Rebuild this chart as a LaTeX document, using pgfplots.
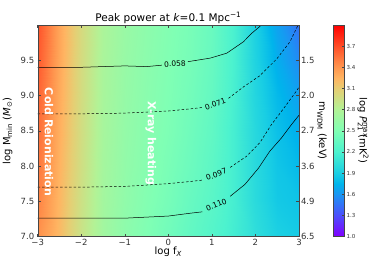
\documentclass[border=0pt]{standalone}
\usepackage{pgfplots}
\pgfplotsset{compat=1.18}
\usepackage{pgfplotstable}
\usepackage{fontspec}
\setmainfont{DejaVu Sans}

\pgfplotsset{
  colormap={mplrainbow}{
    rgb(0pt)=(0.5,0,1)
    rgb(10pt)=(0.3,0.309,0.988)
    rgb(20pt)=(0.1,0.588,0.951)
    rgb(25pt)=(0,0.707,0.924)
    rgb(30pt)=(0.1,0.809,0.891)
    rgb(40pt)=(0.3,0.951,0.809)
    rgb(50pt)=(0.5,1,0.707)
    rgb(60pt)=(0.7,0.951,0.588)
    rgb(70pt)=(0.9,0.809,0.454)
    rgb(75pt)=(1,0.707,0.383)
    rgb(80pt)=(1,0.588,0.309)
    rgb(90pt)=(1,0.309,0.156)
    rgb(100pt)=(1,0,0)
  }
}

\pgfplotstableread{
x y c
-3 7.0 3.42
-2.5 7.0 3.22
-2 7.0 2.93
-1.5 7.0 2.70
-1 7.0 2.58
-0.5 7.0 2.50
0 7.0 2.42
0.5 7.0 2.33
1 7.0 2.25
1.5 7.0 2.15
2 7.0 2.03
2.5 7.0 1.92
3 7.0 1.88
-3 7.5 3.48
-2.5 7.5 3.24
-2 7.5 2.95
-1.5 7.5 2.71
-1 7.5 2.60
-0.5 7.5 2.52
0 7.5 2.45
0.5 7.5 2.36
1 7.5 2.28
1.5 7.5 2.16
2 7.5 2.00
2.5 7.5 1.87
3 7.5 1.84
-3 8.0 3.53
-2.5 8.0 3.26
-2 8.0 2.97
-1.5 8.0 2.72
-1 8.0 2.61
-0.5 8.0 2.54
0 8.0 2.47
0.5 8.0 2.39
1 8.0 2.30
1.5 8.0 2.16
2 8.0 1.99
2.5 8.0 1.85
3 8.0 1.78
-3 8.5 3.57
-2.5 8.5 3.28
-2 8.5 2.98
-1.5 8.5 2.73
-1 8.5 2.62
-0.5 8.5 2.55
0 8.5 2.49
0.5 8.5 2.41
1 8.5 2.32
1.5 8.5 2.16
2 8.5 1.98
2.5 8.5 1.82
3 8.5 1.72
-3 9.0 3.61
-2.5 9.0 3.30
-2 9.0 2.99
-1.5 9.0 2.74
-1 9.0 2.63
-0.5 9.0 2.56
0 9.0 2.50
0.5 9.0 2.43
1 9.0 2.34
1.5 9.0 2.17
2 9.0 1.96
2.5 9.0 1.78
3 9.0 1.65
-3 9.5 3.65
-2.5 9.5 3.32
-2 9.5 3.00
-1.5 9.5 2.75
-1 9.5 2.64
-0.5 9.5 2.57
0 9.5 2.51
0.5 9.5 2.45
1 9.5 2.36
1.5 9.5 2.18
2 9.5 1.94
2.5 9.5 1.72
3 9.5 1.55
-3 10.0 3.68
-2.5 10.0 3.33
-2 10.0 3.01
-1.5 10.0 2.76
-1 10.0 2.65
-0.5 10.0 2.58
0 10.0 2.52
0.5 10.0 2.46
1 10.0 2.37
1.5 10.0 2.18
2 10.0 1.92
2.5 10.0 1.66
3 10.0 1.45
}\fieldtable

\begin{document}
\begin{tikzpicture}[x=1pt,y=1pt]
\path[use as bounding box] (0,0) rectangle (374,262);
\begin{axis}[
  at={(37.7pt,25.5pt)}, anchor=south west,
  width=261.3pt, height=211.5pt, scale only axis,
  xmin=-3, xmax=3, ymin=7, ymax=10,
  xtick={-3,-2,-1,0,1,2,3}, xticklabels={−3,−2,−1,0,1,2,3},
  ytick={7,7.5,8,8.5,9,9.5}, yticklabels={7.0,7.5,8.0,8.5,9.0,9.5},
  xtick pos=both, ytick pos=left,
  tick align=inside, major tick length=3pt,
  axis line style={gray!55!black},
  tick style={gray!55!black, line width=0.5pt},
  ticklabel style={font=\fontsize{8.5}{10}\selectfont, text=black!80},
  xticklabel style={yshift=1pt},
  colormap name=mplrainbow, point meta min=1, point meta max=4,
  axis on top,
]
\addplot[surf, shader=interp, mesh/cols=13, point meta=explicit] table[x=x, y=y, meta=c] {\fieldtable};

% 0.058 solid
\addplot[black, line width=0.5pt, no markers] coordinates {(-3,9.40) (-2.5,9.40) (-2,9.40) (-1.5,9.41) (-1,9.42) (-0.5,9.41) (-0.15,9.43)};
\addplot[black, line width=0.5pt, no markers] coordinates {(0.45,9.48) (0.96,9.53) (1.34,9.60) (1.72,9.76) (1.91,9.88) (2.14,10.0)};
% 0.071 dashed
\addplot[black, line width=0.5pt, dash pattern=on 2.5pt off 2pt, no markers] coordinates {(-3,8.74) (-2,8.74) (-1,8.75) (0,8.78) (0.5,8.81) (0.78,8.83)};
\addplot[black, line width=0.5pt, dash pattern=on 2.5pt off 2pt, no markers] coordinates {(1.38,8.96) (1.72,9.12) (2.10,9.28) (2.49,9.52) (2.79,9.76) (2.98,10.0)};
% 0.097 dashed
\addplot[black, line width=0.5pt, dash pattern=on 2.5pt off 2pt, no markers] coordinates {(-3,7.70) (-2,7.70) (-1,7.71) (0,7.75) (0.5,7.78) (0.78,7.80)};
\addplot[black, line width=0.5pt, dash pattern=on 2.5pt off 2pt, no markers] coordinates {(1.42,7.98) (1.80,8.14) (2.10,8.33) (2.37,8.59) (2.64,8.81) (2.95,9.07) (3.0,9.12)};
% 0.110 solid
\addplot[black, line width=0.5pt, no markers] coordinates {(-3,7.26) (-2,7.26) (-1,7.26) (0,7.29) (0.5,7.33) (0.78,7.35)};
\addplot[black, line width=0.5pt, no markers] coordinates {(1.42,7.57) (1.76,7.74) (2.07,7.97) (2.33,8.21) (2.60,8.40) (2.83,8.59) (3.0,8.72)};

\node[rotate=4, font=\fontsize{7.5}{8}\selectfont, inner sep=0pt] at (axis cs:0.15,9.45) {0.058};
\node[rotate=20, font=\fontsize{7.5}{8}\selectfont, inner sep=0pt] at (axis cs:1.08,8.88) {0.071};
\node[rotate=20, font=\fontsize{7.5}{8}\selectfont, inner sep=0pt] at (axis cs:1.10,7.88) {0.097};
\node[rotate=22, font=\fontsize{7.5}{8}\selectfont, inner sep=0pt] at (axis cs:1.10,7.45) {0.110};

\node[rotate=-90, text=white, font=\bfseries\fontsize{11}{12}\selectfont] at (axis cs:-2.74,8.34) {Cold Reionization};
\node[rotate=-90, text=white, font=\bfseries\fontsize{11}{12}\selectfont] at (axis cs:-0.40,8.32) {X-ray heating};
\end{axis}

% right axis: m_WDM
\begin{axis}[
  at={(37.7pt,25.5pt)}, anchor=south west,
  width=261.3pt, height=211.5pt, scale only axis,
  xmin=-3, xmax=3, ymin=7, ymax=10,
  hide x axis, axis y line*=right,
  ytick={7,7.5,8,8.5,9,9.5}, yticklabels={6.5,4.9,3.6,2.7,2.0,1.5},
  ytick pos=right, yticklabel pos=right,
  tick align=inside, major tick length=3pt,
  axis line style={gray!55!black},
  tick style={gray!55!black, line width=0.5pt},
  ticklabel style={font=\fontsize{8.5}{10}\selectfont, text=black!80},
  yticklabel style={xshift=-1.5pt},
]
\addplot[draw=none, no markers] coordinates {(0,8)};
\end{axis}

% colorbar
\begin{axis}[
  at={(333pt,25.5pt)}, anchor=south west,
  width=11pt, height=211.5pt, scale only axis,
  xmin=0, xmax=1, ymin=1, ymax=4,
  xtick=\empty,
  ytick={1.0,1.3,1.6,1.9,2.2,2.5,2.8,3.1,3.4,3.7},
  yticklabels={1.0,1.3,1.6,1.9,2.2,2.5,2.8,3.1,3.4,3.7},
  ytick pos=right, yticklabel pos=right,
  tick align=inside, major tick length=2pt,
  axis line style={gray!55!black},
  tick style={gray!55!black, line width=0.4pt},
  ticklabel style={font=\fontsize{5.5}{6}\selectfont, text=black!80},
  yticklabel style={xshift=-1pt},
  colormap name=mplrainbow, point meta min=1, point meta max=4,
  axis on top,
]
\addplot[surf, shader=interp, mesh/cols=2, point meta=y] coordinates {
(0,1) (1,1) (0,1.25) (1,1.25) (0,1.5) (1,1.5) (0,1.75) (1,1.75)
(0,2) (1,2) (0,2.25) (1,2.25) (0,2.5) (1,2.5) (0,2.75) (1,2.75)
(0,3) (1,3) (0,3.25) (1,3.25) (0,3.5) (1,3.5) (0,3.75) (1,3.75) (0,4) (1,4)};
\end{axis}

\node[font=\fontsize{10.5}{12}\selectfont] at (168.35,244) {Peak power at \textit{k}=0.1 Mpc\textsuperscript{−1}};
\node[font=\fontsize{10}{12}\selectfont] at (168.35,10) {log f\textsubscript{\textit{X}}};
\node[rotate=90, font=\fontsize{10}{12}\selectfont] at (7.5,131.25) {log M\textsubscript{min} (\textit{M}\textsubscript{⊙})};
\node[rotate=-90, font=\fontsize{10}{12}\selectfont] at (322,131.25) {m\textsubscript{WDM} (keV)};
\node[rotate=-90, font=\fontsize{10}{12}\selectfont] at (363,131.25) {log \textit{P}\makebox[0pt][l]{\textsuperscript{max}}\textsubscript{21} (mK\textsuperscript{2})};
\end{tikzpicture}
\end{document}
